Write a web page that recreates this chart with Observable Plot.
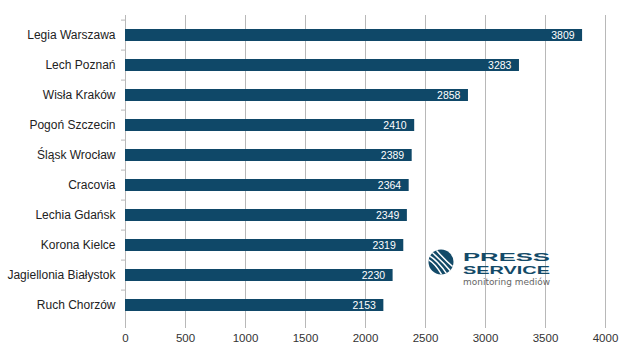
<!DOCTYPE html>
<html>
<head>
<meta charset="utf-8">
<script src="https://cdn.jsdelivr.net/npm/d3@7"></script>
<script src="https://cdn.jsdelivr.net/npm/@observablehq/plot@0.6"></script>
<style>
  html, body { margin: 0; padding: 0; background: #fff; }
  #chart { width: 634px; height: 354px; position: relative; }
</style>
</head>
<body>
<div id="chart"></div>
<script>
const clubs = ["Legia Warszawa", "Lech Poznań", "Wisła Kraków", "Pogoń Szczecin", "Śląsk Wrocław",
  "Cracovia", "Lechia Gdańsk", "Korona Kielce", "Jagiellonia Białystok", "Ruch Chorzów"];
const values = [3809, 3283, 2858, 2410, 2389, 2364, 2349, 2319, 2230, 2153];
const xTicks = [0, 500, 1000, 1500, 2000, 2500, 3000, 3500, 4000];

const data = clubs.map((c, i) => ({club: c, value: values[i]}));
const barColor = "#0f4868";
const gridColor = "#b8b8b8";

const chart = Plot.plot({
  width: 634,
  height: 354,
  marginLeft: 125,
  marginRight: 29,
  marginTop: 15,
  marginBottom: 30,
  style: {fontFamily: "Liberation Sans, Arial, sans-serif", background: "#fff"},
  x: {domain: [0, 4000], ticks: xTicks},
  y: {domain: clubs, paddingInner: 0.6, paddingOuter: 0.3},
  marks: [
    Plot.gridX(xTicks.filter(t => t > 0), {stroke: gridColor, strokeOpacity: 1}),
    Plot.ruleX([0], {stroke: gridColor}),
    Plot.ruleY([0], {frameAnchor: "bottom", stroke: gridColor}),
    Plot.axisX({ticks: xTicks, tickSize: 4, stroke: gridColor, fill: "#333", fontSize: 11.5, tickPadding: 5, label: null, tickFormat: d => String(d)}),
    Plot.axisY({tickSize: 0, fill: "#222", fontSize: 12, tickPadding: 10, label: null}),
    Plot.axisY({tickSize: 4, text: null, stroke: gridColor, dy: -15.4, label: null}),
    Plot.barX(data, {y: "club", x: "value", fill: barColor}),
    Plot.text(data, {y: "club", x: "value", text: d => String(d.value), textAnchor: "end", dx: -8, fill: "#fff", fontSize: 10.5})
  ]
});
document.getElementById("chart").appendChild(chart);

// Press Service logo (decoration)
const svg = d3.select(chart);
const logo = svg.append("g").attr("transform", "translate(441,262)").attr("text-anchor", "start");
logo.append("defs").append("clipPath").attr("id", "lc").append("circle").attr("r", 12.5);
logo.append("circle").attr("r", 12.5).attr("fill", "#134a68");
const stripes = logo.append("g").attr("clip-path", "url(#lc)");
[-7, -3, 1, 5].forEach(o => {
  stripes.append("path")
    .attr("d", `M ${-14 + o} ${-12 - o} Q ${-1 + o * 0.8} ${-3 + o * 0.2} ${12 + o} ${14 - o}`)
    .attr("fill", "none").attr("stroke", "#fff").attr("stroke-width", 1.5);
});
logo.append("text").attr("x", 22).attr("y", -1).text("PRESS")
  .attr("font-family", "Liberation Sans, Arial, sans-serif").attr("font-weight", "bold")
  .attr("font-size", 11.5).attr("fill", "#134a68").attr("textLength", 87).attr("lengthAdjust", "spacingAndGlyphs");
logo.append("text").attr("x", 22).attr("y", 12).text("SERVICE")
  .attr("font-family", "Liberation Sans, Arial, sans-serif").attr("font-weight", "bold")
  .attr("font-size", 11.5).attr("fill", "#134a68").attr("textLength", 87).attr("lengthAdjust", "spacingAndGlyphs");
logo.append("text").attr("x", 22).attr("y", 23).text("monitoring mediów")
  .attr("font-family", "DejaVu Sans, sans-serif")
  .attr("font-size", 9).attr("fill", "#666").attr("textLength", 87).attr("lengthAdjust", "spacingAndGlyphs");
</script>
</body>
</html>
